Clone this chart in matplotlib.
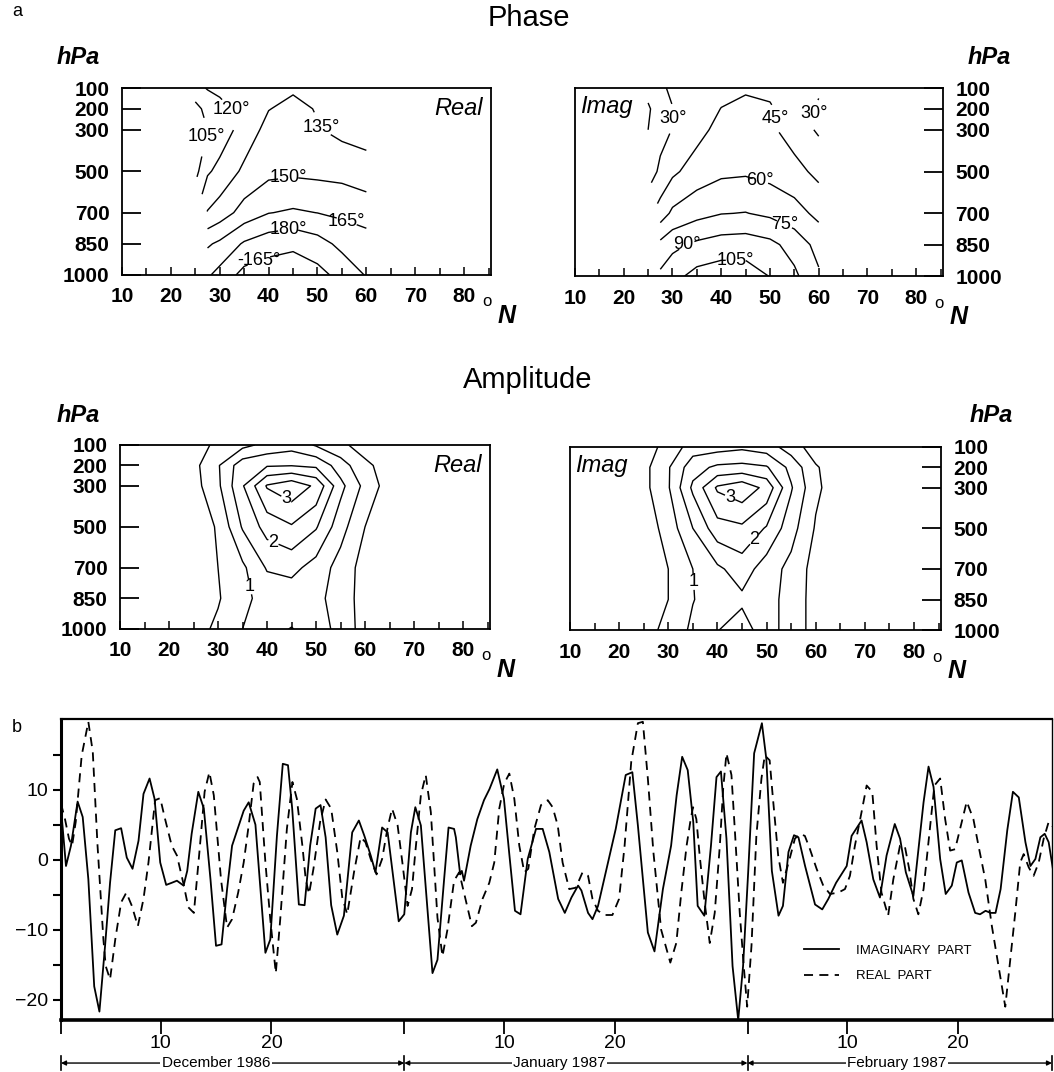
import numpy as np
import matplotlib
matplotlib.use("Agg")
import matplotlib.pyplot as plt

plt.rcParams['font.family'] = ['Liberation Sans', 'DejaVu Sans']

W, H = 1054, 1072

# ---------------- panel a: latitude / pressure sections ----------------
levels_hpa = [100, 200, 300, 500, 700, 850, 1000]
phase_lat = [25, 27.5, 30, 35, 40, 45, 50, 55, 60]
amp_lat = [20, 25, 30, 35, 40, 45, 50, 55, 60, 65, 70]
nan = np.nan

# phase in degrees (rows = pressure levels, cols = latitudes); 195 is shown as -165
phase_real = [
    [115, 121, 124, 128, 131, 133, 131, 128, 125],
    [100, 110, 115, 126, 134.5, 139, 134, 130, 126],
    [95, 105, 112, 126, 140, 143, 136, 131, 128],
    [100, 118, 124, 138, 146, 147, 146, 145, 142],
    [nan, 136, 142, 156, 164.5, 167, 164.8, 162, 158],
    [nan, 163, 168, 182, 189, 192, 186, 176, 172],
    [nan, 178, 185, 200, 203, 204, 200, 190, 179],
]
phase_imag = [
    [20, 27, 33, 38, 41, 43, 42, 38, 32],
    [13, 23, 29.5, 38, 45.3, 49, 46.5, 38, 28],
    [15, 25, 30.5, 40, 50, 53, 48, 38, 28],
    [22, 33, 42, 52, 57, 58, 55, 50, 41],
    [nan, 52, 63, 70, 74.5, 75.5, 72, 66, 56],
    [nan, 79, 86, 93, 97, 98, 94, 84, 70],
    [nan, 93, 100, 110, 113, 112, 104.5, 93, 77],
]
amp_real = [
    [0.1, 0.3, 0.6, 0.85, 1.15, 1.3, 0.95, 0.6, 0.3, 0.1, 0.0],
    [0.1, 0.35, 0.95, 1.8, 1.95, 1.98, 1.9, 1.25, 0.6, 0.3, 0.1],
    [0.1, 0.3, 0.9, 1.95, 3.05, 3.35, 2.9, 1.65, 0.85, 0.25, 0.1],
    [0.05, 0.2, 0.55, 1.55, 2.2, 2.45, 2.05, 1.2, 0.5, 0.2, 0.05],
    [0.05, 0.15, 0.5, 0.9, 1.55, 1.65, 1.3, 0.8, 0.3, 0.1, 0.0],
    [0.05, 0.15, 0.45, 0.9, 1.15, 1.2, 1.15, 0.75, 0.3, 0.1, 0.0],
    [0.05, 0.3, 0.6, 1.0, 1.35, 1.52, 1.3, 0.8, 0.3, 0.1, 0.0],
]
amp_imag = [
    [0.1, 0.3, 0.65, 1.25, 1.3, 1.4, 1.25, 0.75, 0.25, 0.1, 0.0],
    [0.1, 0.35, 0.95, 1.8, 2.1, 2.15, 2.05, 1.35, 0.55, 0.2, 0.05],
    [0.1, 0.35, 0.95, 2.1, 3.08, 3.35, 2.85, 1.55, 0.6, 0.2, 0.05],
    [0.05, 0.2, 0.7, 1.5, 2.3, 2.4, 1.95, 1.2, 0.45, 0.15, 0.0],
    [0.05, 0.15, 0.5, 1.0, 1.4, 1.75, 1.25, 0.85, 0.3, 0.1, 0.0],
    [0.05, 0.15, 0.5, 0.98, 1.25, 1.4, 1.2, 0.8, 0.3, 0.1, 0.0],
    [0.05, 0.3, 0.65, 1.1, 1.48, 1.75, 1.2, 0.8, 0.3, 0.1, 0.0],
]

# labelled / unlabelled contour levels
phase_real_lab = [105, 120, 135, 150, 165, 180, 195]
phase_real_plain = []
phase_imag_lab = [30, 45, 60, 75, 90, 105]
phase_imag_plain = [15]
amp_lab = [1, 2, 3]
amp_plain = [0.5, 1.5, 2.5]

# where the contour labels sit (lat, hPa)
phase_real_lbl = [(27, 330), (32.5, 200), (51, 280), (44, 540), (56, 735), (44, 790), (38, 930)]
phase_imag_lbl = [(30.3, 250), (51.5, 240), (48, 555), (53, 745), (33, 870), (43, 915), (59, 220)]
amp_real_lbl = [(43.8, 377), (41.4, 564), (36.6, 792)]
amp_imag_lbl = [(42.4, 370), (47.9, 574), (35.3, 763)]

# ---------------- panel b: daily series, Dec 1986 - Feb 1987 ----------------
# day 1 = 1 December 1986
imag_day = [1.0, 1.45, 1.9, 2.5, 2.96, 3.47, 4.0, 4.47, 4.98, 5.43, 5.9, 6.43, 6.94, 7.46,
            8.0, 8.45, 9.0, 9.45, 9.96, 10.5, 11.0, 11.47, 12.07, 12.4, 12.8, 13.4, 13.9,
            14.5, 15.0, 15.5, 16.0, 16.45, 17.0, 17.5, 17.95, 18.56, 19.46, 19.9, 20.5,
            21.03, 21.5, 21.88, 22.48, 23.0, 23.5, 24.0, 24.44, 24.9, 25.4, 25.95, 26.55,
            27.3, 27.9, 28.4, 28.97, 29.4, 30.0, 30.5, 31.5, 32.0, 32.6, 33.0, 33.5, 34.55,
            35.0, 35.6, 36.0, 36.5, 36.66, 37.05, 37.2, 37.4, 38.0, 38.6, 39.2, 39.7, 40.4,
            41.0, 41.5, 42.0, 42.5, 43.15, 43.9, 44.5, 45.1, 45.9, 46.5, 47.1, 47.7, 48.0,
            48.6, 49.0, 49.5, 50.2, 51.1, 52.0, 52.6, 53.1, 54.0, 54.6, 55.36, 56.1, 56.6,
            57.1, 57.6, 58.1, 58.5, 59.1, 59.7, 60.2, 60.6, 61.1, 61.65, 62.16, 62.6, 63.06,
            63.6, 64.3, 64.7, 65.2, 65.8, 66.2, 66.7, 67.2, 67.6, 68.2, 69.1, 69.75, 70.3,
            71.0, 71.96, 72.4, 73.3, 73.76, 74.36, 74.96, 75.56, 76.3, 76.78, 77.3, 77.98,
            78.9, 79.35, 79.8, 80.4, 80.9, 81.45, 81.9, 82.35, 82.96, 83.56, 84.0, 84.5,
            84.95, 85.4, 85.86, 86.46, 86.97, 87.5, 88.1, 88.55, 89.0, 89.45, 89.84, 90.2,
            90.8]
imag_val = [7.3, -0.9, 2.0, 8.3, 6.1, -2.8, -18.1, -21.7, -12.3, -3.3, 4.2, 4.5, 0.3, -1.3,
            2.7, 9.4, 11.6, 8.7, -0.4, -3.6, -3.3, -3.0, -3.7, -1.6, 3.7, 9.7, 7.3,
            -2.8, -12.3, -12.1, -4.2, 2.0, 4.6, 7.0, 8.2, 5.0, -13.3, -11.4, 3.4,
            13.7, 13.5, 7.3, -6.4, -6.5, 2.0, 7.3, 7.8, 3.2, -6.5, -10.7, -8.0,
            3.9, 5.6, 3.4, 0.6, -1.8, 4.6, 3.9, -8.8, -7.8, 3.9, 7.5, 4.9, -16.2,
            -14.3, -2.8, 4.6, 4.4, 3.2, -2.1, -1.6, -3.0, 2.0, 5.8, 8.5, 10.1, 12.9,
            8.7, 0.6, -7.3, -7.8, 0.1, 4.4, 4.4, 1.1, -5.6, -7.6, -5.4, -3.7, -4.4,
            -7.6, -8.5, -6.6, -1.8, 4.4, 12.1, 12.5, 4.9, -10.4, -13.1, -4.2, 2.0, 9.2,
            14.7, 12.8, 5.4, -6.6, -8.0, 2.0, 11.8, 12.6, 3.0, -15.2, -22.9, -15.2, -1.8,
            15.2, 19.5, 14.4, -1.6, -8.0, -6.6, 1.1, 3.5, 3.2, -0.9, -6.4, -7.1, -5.6,
            -3.3, -0.9, 3.4, 5.6, 2.5, -2.8, -5.4, 0.6, 5.1, 3.0, -1.8, -5.2,
            8.2, 13.3, 10.4, 0.1, -4.9, -3.7, -0.4, -0.1, -4.7, -7.6, -7.8, -7.3,
            -7.6, -7.6, -4.2, 4.2, 9.7, 8.9, 2.5, -0.9, 0.1, 3.2, 3.7, 2.5,
            -3.5]

real_day = [1.0, 1.36, 1.72, 2.0, 2.33, 2.87, 3.47, 3.87, 4.3, 4.83, 5.04, 5.43, 5.9, 6.43,
            6.9, 7.4, 7.94, 8.45, 8.9, 9.5, 9.96, 10.4, 11.0, 11.47, 12.07, 12.5, 13.0, 13.5,
            13.97, 14.4, 14.8, 15.45, 16.0, 16.45, 17.0, 17.5, 17.95, 18.4, 18.75, 18.95,
            19.46, 19.9, 20.4, 20.8, 21.4, 21.9, 22.3, 22.8, 23.1, 23.4, 23.8, 24.4, 24.9,
            25.4, 25.95, 26.4, 26.85, 27.46, 28.06, 28.5, 28.97, 29.5, 30.0, 30.5, 30.9,
            31.4, 31.83, 32.3, 32.7, 33.0, 33.5, 33.94, 34.4, 35.0, 35.45, 35.9, 36.5, 36.96,
            38.11, 38.47, 39.07, 39.68, 40.13, 40.58, 41.03, 41.49, 41.94, 42.39, 42.84,
            43.2, 43.75, 44.35, 44.96, 45.4, 45.86, 46.3, 46.9, 47.5, 48.1, 48.6, 49.0, 49.5,
            50.1, 50.8, 51.4, 51.9, 52.5, 53.1, 53.55, 54.0, 54.5, 55.2, 56.03, 56.57, 57.02,
            57.5, 57.87, 58.08, 58.38, 58.68, 59.13, 59.59, 60.04, 60.5, 60.8, 61.1, 61.55,
            61.85, 62.3, 62.66, 62.97, 63.36, 63.8, 64.26, 64.56, 65.0, 65.3, 65.77, 66.2,
            66.8, 67.28, 67.73, 68.18, 68.64, 69.24, 69.84, 70.45, 71.2, 71.8, 72.25, 72.7,
            73.3, 73.76, 74.27, 74.66, 75.1, 75.7, 76.17, 76.77, 77.2, 77.6, 77.98, 78.43,
            78.9, 79.5, 79.88, 80.4, 80.85, 81.3, 81.75, 82.2, 82.8, 83.4, 83.86, 84.47,
            85.07, 85.67, 86.28, 86.73, 87.18, 87.63, 87.94, 88.4, 88.84, 89.3, 89.75, 90.2,
            90.65, 90.9]
real_val = [8.0, 5.8, 3.0, 2.0, 5.4, 14.9, 19.7, 15.4, 2.0, -11.4, -15.2, -17.1, -11.4, -6.1,
            -4.7, -6.6, -9.5, -5.6, -0.4, 8.5, 8.8, 5.8, 2.0, 0.6, -3.5, -6.8, -7.6, 1.1,
            9.7, 12.5, 9.2, -2.8, -9.7, -8.5, -4.7, -0.4, 4.9, 10.9, 11.8, 11.1,
            -0.4, -8.5, -16.2, -8.5, 4.4, 11.1, 8.7, 2.0, -2.8, -4.9, -1.3, 5.4, 8.6,
            7.3, 1.1, -5.4, -7.8, -1.8, 3.2, 2.5, 0.1, -2.1, 0.1, 4.6, 7.3,
            4.9, -0.4, -6.6, -4.2, 1.1, 9.2, 12.1, 6.8, -8.3, -13.8, -10.0, -3.0, -1.8,
            -9.5, -9.0, -5.6, -3.3, -0.4, 7.3, 10.9, 12.3, 8.7, 2.0, -1.8,
            -1.3, 4.4, 7.8, 8.5, 7.5, 4.9, -0.4, -4.2, -4.0, -1.8, -2.3, -5.6, -7.3,
            -7.9, -7.9, -5.6, 2.0, 14.0, 19.5, 19.7, 11.6, 1.1, -10.0, -14.7, -11.9, -4.7,
            2.0, 5.8, 7.5, 5.8, 0.6, -6.1, -11.9, -7.6, 2.0, 10.1, 15.2, 12.1,
            4.4, -7.6, -15.2, -21.0, -12.3, 3.4, 11.6, 14.9, 14.2, 8.7, 0.6, -3.3,
            0.1, 3.0, 3.7, 3.4, 1.5, -1.3, -3.7, -4.9, -4.7, -4.2, -2.3, 2.0,
            6.8, 10.6, 9.7, 2.0, -4.7, -8.0, -2.8, 2.0, 2.0, -1.3, -5.6, -7.8,
            -4.2, 4.9, 10.6, 11.6, 5.8, 1.3, 1.5, 4.4, 8.3, 5.8, 2.0, -2.8,
            -9.5, -15.2, -21.0, -14.3, -7.6, -0.4, 0.8, -1.1, -2.3, -0.4, 3.0, 5.4,
            4.6, 3.9]

month_names = ['December 1986', 'January 1987', 'February 1987']
month_start = [1, 32, 63, 90.5]
month_label_x = [15, 46, 76.5]


def px(x, y):
    return x / W, 1 - y / H


def rect(l, t, r, b):
    return [l / W, 1 - b / H, (r - l) / W, (b - t) / H]


def phase_fmt(v):
    if v > 180:
        v = v - 360
    return f'{v:.0f}°'


def amp_fmt(v):
    return f'{v:.0f}'


fig = plt.figure(figsize=(W / 100, H / 100), dpi=100)


def section(box, lat, field, lev_lab, lev_plain, fmt, lbl_pos, side, tag):
    ax = fig.add_axes(rect(*box))
    z = np.array(field, dtype=float)
    if lev_plain:
        ax.contour(lat, levels_hpa, z, levels=lev_plain, colors='k', linewidths=1.0)
    cs = ax.contour(lat, levels_hpa, z, levels=lev_lab, colors='k', linewidths=1.0)
    texts = ax.clabel(cs, fmt=fmt, manual=lbl_pos, inline=True, fontsize=13,
                      inline_spacing=3)
    for t in texts:
        t.set_rotation(0)
    ax.set_xlim(10, 85.5)
    ax.set_ylim(1000, 100)
    ax.set_xticks(range(10, 81, 10))
    ax.set_xticks(range(15, 86, 10), minor=True)
    ax.set_xticklabels([str(v) for v in range(10, 81, 10)], fontweight='bold')
    ax.set_yticks(levels_hpa)
    ax.set_yticklabels([str(v) for v in levels_hpa], fontweight='bold')
    ax.tick_params(axis='x', which='both', direction='in', length=6, width=1.1,
                   labelsize=15, pad=9, top=False)
    ax.tick_params(axis='x', which='minor', length=5)
    if side == 'left':
        ax.tick_params(axis='y', direction='in', length=14, width=1.3, labelsize=15, pad=9,
                       left=True, right=False, labelleft=True, labelright=False)
        ax.text(0.977, 0.89, tag, transform=ax.transAxes, ha='right', va='center',
                style='italic', fontsize=17)
    else:
        ax.tick_params(axis='y', direction='in', length=14, width=1.3, labelsize=15, pad=9,
                       left=False, right=True, labelleft=False, labelright=True)
        ax.text(0.013, 0.90, tag, transform=ax.transAxes, ha='left', va='center',
                style='italic', fontsize=17)
    for s in ax.spines.values():
        s.set_linewidth(1.3)
    return ax


boxes = {
    'pr': (122, 88, 491, 275), 'pi': (575, 88, 943, 276),
    'ar': (120, 445, 490, 629), 'ai': (570, 447, 941, 630),
}
section(boxes['pr'], phase_lat, phase_real, phase_real_lab, phase_real_plain, phase_fmt,
        phase_real_lbl, 'left', 'Real')
section(boxes['pi'], phase_lat, phase_imag, phase_imag_lab, phase_imag_plain, phase_fmt,
        phase_imag_lbl, 'right', 'Imag')
section(boxes['ar'], amp_lat, amp_real, amp_lab, amp_plain, amp_fmt,
        amp_real_lbl, 'left', 'Real')
section(boxes['ai'], amp_lat, amp_imag, amp_lab, amp_plain, amp_fmt,
        amp_imag_lbl, 'right', 'Imag')

# headings and unit labels
fig.text(*px(12, 12), 'a', fontsize=13, ha='left', va='center')
fig.text(*px(529, 18), 'Phase', fontsize=21, ha='center', va='center')
fig.text(*px(528, 380), 'Amplitude', fontsize=21, ha='center', va='center')
for (x, y) in [(78, 58), (989, 58), (78, 416), (991, 416)]:
    fig.text(*px(x, y), 'hPa', fontsize=17, style='italic', fontweight='bold',
             ha='center', va='center')
for key in boxes:
    l, t, r, b = boxes[key]
    fig.text(*px(r - 4, b + 27), 'o', fontsize=12, ha='center', va='center')
    fig.text(*px(r + 16, b + 41), 'N', fontsize=18, style='italic', fontweight='bold',
             ha='center', va='center')

# ---------------- panel b ----------------
fig.text(*px(12, 727), 'b', fontsize=13, ha='left', va='center')
axb = fig.add_axes(rect(61, 719, 1052, 1020))
axb.plot(imag_day, imag_val, color='k', lw=1.3, label='IMAGINARY  PART')
axb.plot(real_day, real_val, color='k', lw=1.3, ls=(0, (5, 3.5)), label='REAL  PART')
axb.set_xlim(1, 90.5)
axb.set_ylim(-22.9, 20.1)
axb.set_yticks([-20, -10, 0, 10])
axb.set_yticklabels(['\u221220', '\u221210', '0', '10'])
axb.set_yticks([-15, -5, 5, 15], minor=True)
tick_days = [1, 10, 20, 32, 41, 51, 63, 72, 82]
axb.set_xticks(tick_days)
axb.set_xticklabels(['', '10', '20', '', '10', '20', '', '10', '20'])
axb.tick_params(axis='y', which='both', direction='out', length=6, width=1.5,
                labelsize=14, pad=3)
axb.tick_params(axis='x', direction='out', length=10, width=1.3, labelsize=14, pad=1)
axb.spines['left'].set_linewidth(2.2)
axb.spines['bottom'].set_linewidth(2.6)
axb.spines['top'].set_linewidth(1.6)
axb.spines['right'].set_linewidth(1.0)
axb.legend(loc='upper left', bbox_to_anchor=(0.738, 0.29), frameon=False, fontsize=9.5,
           handlelength=2.6, labelspacing=1.0, handletextpad=1.3)

# month bar below the time axis
tr = axb.get_xaxis_transform()
bar_y = -0.143
for i, name in enumerate(month_names):
    x0, x1 = month_start[i], month_start[i + 1]
    axb.annotate('', xy=(x1, bar_y), xytext=(x0, bar_y), xycoords=tr, textcoords=tr,
                 arrowprops=dict(arrowstyle='<|-|>', lw=1.0, color='k', mutation_scale=7,
                                 shrinkA=0, shrinkB=0), annotation_clip=False)
    axb.text(month_label_x[i], bar_y, name, transform=tr, ha='center', va='center',
             fontsize=11, bbox=dict(facecolor='white', edgecolor='none', pad=1.0), zorder=5,
             clip_on=False)
for x in month_start:
    axb.plot([x, x], [bar_y - 0.022, bar_y + 0.022], transform=tr, color='k', lw=1.2,
             clip_on=False)

fig.savefig('out.png', dpi=100)
